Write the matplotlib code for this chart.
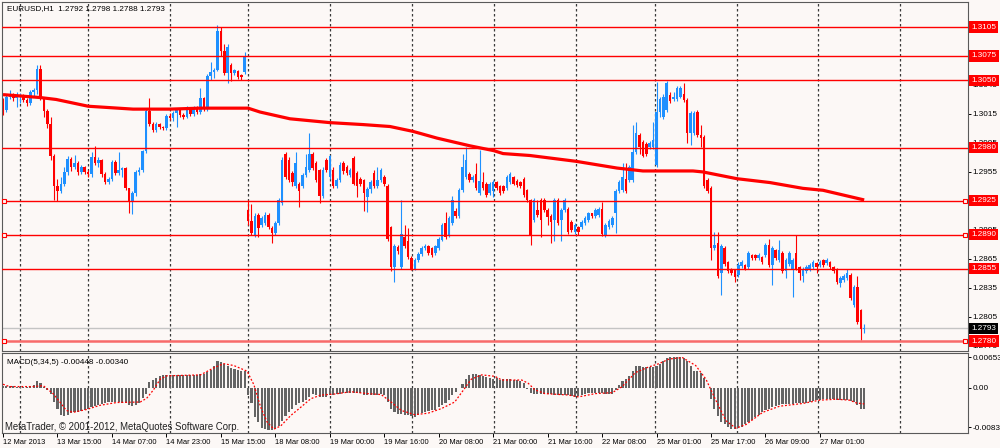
import numpy as np
import matplotlib.pyplot as plt
from matplotlib.transforms import blended_transform_factory

plt.rcParams['font.family'] = ['Liberation Sans', 'DejaVu Sans']

# EURUSD H1 candles, 12 Mar 2013 23:00 .. 27 Mar 2013
opens = [
    1.3030, 1.3019, 1.3033, 1.3036, 1.3031, 1.3034, 1.3035, 1.3029, 1.3026, 1.3038,
    1.3040, 1.3062, 1.3030, 1.3018, 1.3005, 1.2972, 1.2940, 1.2935, 1.2943, 1.2955,
    1.2968, 1.2960, 1.2964, 1.2955, 1.2960, 1.2955, 1.2953, 1.2970, 1.2964, 1.2967,
    1.2953, 1.2945, 1.2948, 1.2965, 1.2954, 1.2957, 1.2959, 1.2938, 1.2924, 1.2933,
    1.2955, 1.2957, 1.2977, 1.3018, 1.3005, 1.2998, 1.3005, 1.3001, 1.3000, 1.3013,
    1.3011, 1.3016, 1.3020, 1.3014, 1.3012, 1.3019, 1.3015, 1.3021, 1.3017, 1.3031,
    1.3020, 1.3054, 1.3058, 1.3061, 1.3101, 1.3080, 1.3057, 1.3066, 1.3057, 1.3059,
    1.3055, 1.3058, 1.2916, 1.2904, 1.2890, 1.2910, 1.2900, 1.2902, 1.2910, 1.2897,
    1.2892, 1.2902, 1.2923, 1.2974, 1.2967, 1.2954, 1.2940, 1.2943, 1.2940, 1.2952,
    1.2957, 1.2974, 1.2964, 1.2957, 1.2930, 1.2967, 1.2950, 1.2957, 1.2940, 1.2947,
    1.2964, 1.2960, 1.2952, 1.2969, 1.2954, 1.2948, 1.2947, 1.2929, 1.2937, 1.2954,
    1.2940, 1.2947, 1.2950, 1.2940, 1.2898, 1.2857, 1.2877, 1.2857, 1.2888, 1.2884,
    1.2866, 1.2855, 1.2864, 1.2870, 1.2876, 1.2878, 1.2876, 1.2871, 1.2876, 1.2885,
    1.2902, 1.2890, 1.2902, 1.2915, 1.2909, 1.2936, 1.2950, 1.2953, 1.2947, 1.2953,
    1.2933, 1.2945, 1.2943, 1.2933, 1.2935, 1.2945, 1.2940, 1.2940, 1.2938, 1.2945,
    1.2950, 1.2946, 1.2945, 1.2948, 1.2936, 1.2926, 1.2905, 1.2916, 1.2926, 1.2926,
    1.2916, 1.2909, 1.2905, 1.2926, 1.2905, 1.2916, 1.2917, 1.2903, 1.2893, 1.2898,
    1.2898, 1.2902, 1.2905, 1.2912, 1.2909, 1.2910, 1.2917, 1.2890, 1.2898, 1.2900,
    1.2912, 1.2935, 1.2936, 1.2948, 1.2947, 1.2947, 1.2976, 1.2993, 1.2986, 1.2984,
    1.2981, 1.2981, 1.2962, 1.3017, 1.3012, 1.3019, 1.3035, 1.3030, 1.3030, 1.3033,
    1.3036, 1.3029, 1.2995, 1.2995, 1.3017, 1.2993, 1.2991, 1.2947, 1.2938, 1.2876,
    1.2881, 1.2850, 1.2876, 1.2862, 1.2855, 1.2853, 1.2848, 1.2858, 1.2859, 1.2857,
    1.2869, 1.2869, 1.2866, 1.2867, 1.2869, 1.2879, 1.2859, 1.2874, 1.2864, 1.2871,
    1.2852, 1.2860, 1.2854, 1.2871, 1.2857, 1.2847, 1.2852, 1.2854, 1.2857, 1.2861,
    1.2859, 1.2864, 1.2861, 1.2862, 1.2857, 1.2855, 1.2840, 1.2843, 1.2845, 1.2848,
    1.2817, 1.2836, 1.2812, 1.2792,
]
highs = [
    1.3032, 1.3036, 1.3040, 1.3037, 1.3038, 1.3037, 1.3036, 1.3032, 1.3040, 1.3042,
    1.3066, 1.3066, 1.3032, 1.3020, 1.3012, 1.2974, 1.2948, 1.2950, 1.2960, 1.2972,
    1.2970, 1.2973, 1.2966, 1.2962, 1.2961, 1.2957, 1.2976, 1.2982, 1.2970, 1.2968,
    1.2955, 1.2950, 1.2967, 1.2967, 1.2976, 1.2960, 1.2960, 1.2938, 1.2935, 1.2957,
    1.2960, 1.2978, 1.3020, 1.3031, 1.3007, 1.3007, 1.3006, 1.3003, 1.3015, 1.3016,
    1.3018, 1.3021, 1.3021, 1.3016, 1.3023, 1.3022, 1.3023, 1.3023, 1.3042, 1.3033,
    1.3056, 1.3069, 1.3063, 1.3107, 1.3105, 1.3087, 1.3087, 1.3068, 1.3062, 1.3060,
    1.3056, 1.3079, 1.2926, 1.2922, 1.2912, 1.2912, 1.2909, 1.2914, 1.2912, 1.2899,
    1.2904, 1.2928, 1.2970, 1.2976, 1.2970, 1.2956, 1.2976, 1.2945, 1.2954, 1.2974,
    1.2995, 1.2976, 1.2966, 1.2958, 1.2960, 1.2969, 1.2973, 1.2960, 1.2949, 1.2965,
    1.2966, 1.2962, 1.2959, 1.2972, 1.2956, 1.2950, 1.2948, 1.2939, 1.2947, 1.2957,
    1.2960, 1.2959, 1.2952, 1.2942, 1.2899, 1.2880, 1.2879, 1.2926, 1.2900, 1.2897,
    1.2868, 1.2866, 1.2872, 1.2878, 1.2880, 1.2879, 1.2877, 1.2879, 1.2888, 1.2902,
    1.2914, 1.2909, 1.2930, 1.2918, 1.2938, 1.2974, 1.2981, 1.2955, 1.2952, 1.2964,
    1.2978, 1.2955, 1.2945, 1.2945, 1.2947, 1.2946, 1.2941, 1.2941, 1.2952, 1.2955,
    1.2951, 1.2948, 1.2946, 1.2950, 1.2937, 1.2927, 1.2928, 1.2926, 1.2928, 1.2928,
    1.2918, 1.2911, 1.2928, 1.2928, 1.2918, 1.2928, 1.2919, 1.2905, 1.2902, 1.2899,
    1.2905, 1.2909, 1.2914, 1.2913, 1.2918, 1.2919, 1.2924, 1.2902, 1.2906, 1.2909,
    1.2937, 1.2947, 1.2964, 1.2964, 1.2962, 1.3004, 1.3007, 1.2995, 1.2988, 1.2986,
    1.2987, 1.3007, 1.3048, 1.3033, 1.3036, 1.3049, 1.3038, 1.3038, 1.3044, 1.3044,
    1.3047, 1.3031, 1.3018, 1.3018, 1.3019, 1.3004, 1.2993, 1.2949, 1.2940, 1.2893,
    1.2893, 1.2880, 1.2878, 1.2863, 1.2856, 1.2854, 1.2862, 1.2864, 1.2860, 1.2873,
    1.2870, 1.2870, 1.2871, 1.2868, 1.2881, 1.2886, 1.2878, 1.2875, 1.2885, 1.2873,
    1.2866, 1.2873, 1.2866, 1.2890, 1.2858, 1.2857, 1.2859, 1.2861, 1.2864, 1.2862,
    1.2864, 1.2865, 1.2866, 1.2863, 1.2858, 1.2856, 1.2847, 1.2849, 1.2855, 1.2850,
    1.2838, 1.2847, 1.2813, 1.2798,
]
lows = [
    1.3014, 1.3017, 1.3030, 1.3028, 1.3022, 1.3026, 1.3027, 1.3023, 1.3024, 1.3033,
    1.3036, 1.3029, 1.3012, 1.3000, 1.2967, 1.2926, 1.2925, 1.2933, 1.2940, 1.2952,
    1.2956, 1.2958, 1.2952, 1.2953, 1.2953, 1.2950, 1.2950, 1.2962, 1.2960, 1.2950,
    1.2943, 1.2943, 1.2946, 1.2952, 1.2952, 1.2950, 1.2936, 1.2912, 1.2911, 1.2930,
    1.2952, 1.2955, 1.2975, 1.3003, 1.2996, 1.2996, 1.2999, 1.2998, 1.2998, 1.3009,
    1.3008, 1.3001, 1.3012, 1.3010, 1.3011, 1.3013, 1.3013, 1.3015, 1.3015, 1.3018,
    1.3018, 1.3050, 1.3052, 1.3059, 1.3075, 1.3055, 1.3047, 1.3049, 1.3055, 1.3051,
    1.3050, 1.3056, 1.2900, 1.2890, 1.2888, 1.2888, 1.2898, 1.2900, 1.2896, 1.2881,
    1.2890, 1.2900, 1.2921, 1.2948, 1.2945, 1.2940, 1.2938, 1.2919, 1.2938, 1.2950,
    1.2955, 1.2957, 1.2945, 1.2923, 1.2928, 1.2955, 1.2948, 1.2938, 1.2938, 1.2945,
    1.2953, 1.2952, 1.2950, 1.2941, 1.2929, 1.2940, 1.2915, 1.2914, 1.2933, 1.2938,
    1.2938, 1.2945, 1.2940, 1.2884, 1.2852, 1.2841, 1.2870, 1.2855, 1.2876, 1.2865,
    1.2854, 1.2853, 1.2862, 1.2868, 1.2874, 1.2869, 1.2867, 1.2869, 1.2874, 1.2883,
    1.2886, 1.2888, 1.2900, 1.2907, 1.2907, 1.2934, 1.2948, 1.2945, 1.2945, 1.2936,
    1.2931, 1.2936, 1.2929, 1.2931, 1.2929, 1.2936, 1.2931, 1.2933, 1.2936, 1.2943,
    1.2941, 1.2939, 1.2938, 1.2929, 1.2924, 1.2879, 1.2903, 1.2908, 1.2888, 1.2914,
    1.2900, 1.2881, 1.2884, 1.2900, 1.2884, 1.2914, 1.2891, 1.2893, 1.2891, 1.2890,
    1.2896, 1.2900, 1.2903, 1.2907, 1.2907, 1.2908, 1.2889, 1.2888, 1.2896, 1.2898,
    1.2892, 1.2933, 1.2934, 1.2933, 1.2945, 1.2945, 1.2974, 1.2974, 1.2970, 1.2972,
    1.2979, 1.2979, 1.2960, 1.3012, 1.3010, 1.3017, 1.3026, 1.3028, 1.3028, 1.3031,
    1.3027, 1.2985, 1.2983, 1.2993, 1.2991, 1.2981, 1.2938, 1.2933, 1.2864, 1.2874,
    1.2845, 1.2828, 1.2858, 1.2850, 1.2848, 1.2841, 1.2846, 1.2856, 1.2853, 1.2855,
    1.2864, 1.2864, 1.2864, 1.2860, 1.2867, 1.2857, 1.2838, 1.2864, 1.2862, 1.2850,
    1.2845, 1.2858, 1.2826, 1.2853, 1.2843, 1.2841, 1.2850, 1.2852, 1.2855, 1.2850,
    1.2857, 1.2857, 1.2859, 1.2855, 1.2850, 1.2839, 1.2836, 1.2841, 1.2843, 1.2822,
    1.2815, 1.2798, 1.2781, 1.2788,
]
closes = [
    1.3019, 1.3033, 1.3036, 1.3031, 1.3034, 1.3035, 1.3029, 1.3026, 1.3038, 1.3040,
    1.3062, 1.3030, 1.3018, 1.3005, 1.2972, 1.2940, 1.2935, 1.2943, 1.2955, 1.2968,
    1.2960, 1.2964, 1.2955, 1.2960, 1.2955, 1.2953, 1.2970, 1.2964, 1.2967, 1.2953,
    1.2945, 1.2948, 1.2965, 1.2954, 1.2957, 1.2959, 1.2938, 1.2924, 1.2933, 1.2955,
    1.2957, 1.2977, 1.3018, 1.3005, 1.2998, 1.3005, 1.3001, 1.3000, 1.3013, 1.3011,
    1.3016, 1.3020, 1.3014, 1.3012, 1.3019, 1.3015, 1.3021, 1.3017, 1.3031, 1.3020,
    1.3054, 1.3058, 1.3061, 1.3101, 1.3080, 1.3057, 1.3084, 1.3057, 1.3060, 1.3053,
    1.3053, 1.3074, 1.2904, 1.2892, 1.2909, 1.2897, 1.2907, 1.2910, 1.2898, 1.2892,
    1.2902, 1.2926, 1.2967, 1.2950, 1.2947, 1.2945, 1.2964, 1.2935, 1.2952, 1.2960,
    1.2974, 1.2959, 1.2947, 1.2930, 1.2957, 1.2957, 1.2971, 1.2940, 1.2947, 1.2962,
    1.2956, 1.2954, 1.2957, 1.2943, 1.2940, 1.2943, 1.2933, 1.2937, 1.2945, 1.2940,
    1.2947, 1.2957, 1.2942, 1.2886, 1.2857, 1.2878, 1.2873, 1.2891, 1.2878, 1.2867,
    1.2855, 1.2864, 1.2870, 1.2876, 1.2878, 1.2871, 1.2869, 1.2878, 1.2886, 1.2900,
    1.2888, 1.2907, 1.2926, 1.2909, 1.2936, 1.2960, 1.2967, 1.2947, 1.2950, 1.2938,
    1.2946, 1.2938, 1.2931, 1.2943, 1.2945, 1.2938, 1.2933, 1.2935, 1.2950, 1.2953,
    1.2943, 1.2941, 1.2940, 1.2931, 1.2926, 1.2890, 1.2926, 1.2910, 1.2905, 1.2916,
    1.2908, 1.2903, 1.2926, 1.2902, 1.2916, 1.2926, 1.2893, 1.2895, 1.2900, 1.2893,
    1.2903, 1.2907, 1.2912, 1.2909, 1.2916, 1.2917, 1.2891, 1.2900, 1.2904, 1.2907,
    1.2935, 1.2945, 1.2950, 1.2935, 1.2960, 1.2976, 1.2995, 1.2981, 1.2972, 1.2974,
    1.2985, 1.2988, 1.3017, 1.3030, 1.3033, 1.3047, 1.3028, 1.3033, 1.3042, 1.3042,
    1.3029, 1.2995, 1.3016, 1.3016, 1.2993, 1.2990, 1.2940, 1.2935, 1.2876, 1.2879,
    1.2847, 1.2878, 1.2860, 1.2852, 1.2850, 1.2846, 1.2859, 1.2862, 1.2855, 1.2871,
    1.2866, 1.2866, 1.2869, 1.2862, 1.2879, 1.2859, 1.2876, 1.2866, 1.2874, 1.2852,
    1.2864, 1.2871, 1.2864, 1.2855, 1.2850, 1.2855, 1.2857, 1.2859, 1.2862, 1.2857,
    1.2862, 1.2859, 1.2864, 1.2857, 1.2852, 1.2841, 1.2845, 1.2847, 1.2850, 1.2824,
    1.2836, 1.2800, 1.2792, 1.2793,
]

# moving average (read at bar positions)
ma_pos = [0, 10.9, 15.6, 25, 38.2, 49.1, 57.9, 72, 75.5, 84.3, 96.1, 105.8, 113.7,
          120.4, 127.5, 137.2, 144.2, 146.9, 154.8, 168.3, 180.4, 188, 202.7, 205.6,
          215.6, 225.3, 235, 240.9, 253]
ma_vals = [1.3035, 1.3032, 1.3030, 1.3023, 1.3020, 1.3020, 1.3021, 1.3021, 1.3017,
           1.3010, 1.3006, 1.3004, 1.3002, 1.2997, 1.2990, 1.2982, 1.2977, 1.2974,
           1.2972, 1.2966, 1.2959, 1.2956, 1.2956, 1.2955, 1.2948, 1.2944, 1.2938,
           1.2936, 1.2926]

levels = [1.3105, 1.3075, 1.3050, 1.2980, 1.2925, 1.2890, 1.2855, 1.2780]
marked_levels = [1.2925, 1.2890, 1.2780]
bid = 1.2793

price_ticks = [1.2775, 1.2805, 1.2835, 1.2865, 1.2895, 1.2925, 1.2955, 1.2985,
               1.3015, 1.3045, 1.3075, 1.3105]

# MACD(5,34,5) histogram and signal
macd_hist = [
    0.0004, 0.0004, 0.0005, 0.0004, 0.0003, 0.0003, 0.0002, 0.0002, 0.0004, 0.0006,
    0.0016, 0.0010, 0.0003, -0.0004, -0.0012, -0.0030, -0.0044, -0.0057, -0.0059, -0.0057,
    -0.0054, -0.0052, -0.0051, -0.0049, -0.0046, -0.0044, -0.0041, -0.0038, -0.0036, -0.0034,
    -0.0033, -0.0031, -0.0030, -0.0031, -0.0031, -0.0032, -0.0033, -0.0036, -0.0038, -0.0036,
    -0.0033, -0.0022, -0.0012, 0.0012, 0.0017, 0.0021, 0.0025, 0.0027, 0.0027, 0.0028,
    0.0028, 0.0028, 0.0027, 0.0027, 0.0027, 0.0027, 0.0028, 0.0028, 0.0029, 0.0030,
    0.0034, 0.0039, 0.0046, 0.0057, 0.0055, 0.0052, 0.0048, 0.0043, 0.0041, 0.0039,
    0.0037, 0.0036, -0.0015, -0.0033, -0.0062, -0.0073, -0.0086, -0.0088, -0.0089, -0.0090,
    -0.0088, -0.0081, -0.0070, -0.0059, -0.0052, -0.0044, -0.0037, -0.0033, -0.0030, -0.0025,
    -0.0019, -0.0013, -0.0014, -0.0019, -0.0020, -0.0019, -0.0015, -0.0014, -0.0012, -0.0012,
    -0.0011, -0.0011, -0.0010, -0.0010, -0.0011, -0.0011, -0.0014, -0.0015, -0.0014, -0.0015,
    -0.0014, -0.0013, -0.0015, -0.0030, -0.0044, -0.0052, -0.0055, -0.0055, -0.0057, -0.0057,
    -0.0059, -0.0061, -0.0057, -0.0054, -0.0052, -0.0050, -0.0048, -0.0046, -0.0041, -0.0037,
    -0.0032, -0.0026, -0.0015, -0.0008, -0.0001, 0.0008, 0.0019, 0.0028, 0.0030, 0.0030,
    0.0028, 0.0026, 0.0023, 0.0022, 0.0019, 0.0021, 0.0017, 0.0019, 0.0019, 0.0019,
    0.0017, 0.0017, 0.0014, 0.0010, -0.0003, -0.0010, -0.0012, -0.0012, -0.0012, -0.0012,
    -0.0013, -0.0013, -0.0014, -0.0014, -0.0015, -0.0015, -0.0016, -0.0017, -0.0019, -0.0017,
    -0.0015, -0.0012, -0.0011, -0.0010, -0.0010, -0.0010, -0.0011, -0.0012, -0.0013, -0.0012,
    -0.0004, 0.0007, 0.0014, 0.0019, 0.0025, 0.0036, 0.0046, 0.0046, 0.0045, 0.0045,
    0.0045, 0.0045, 0.0046, 0.0052, 0.0057, 0.0065, 0.0066, 0.0066, 0.0066, 0.0066,
    0.0065, 0.0057, 0.0046, 0.0037, 0.0036, 0.0032, 0.0021, 0.0001, -0.0023, -0.0044,
    -0.0059, -0.0073, -0.0077, -0.0083, -0.0088, -0.0088, -0.0086, -0.0084, -0.0077, -0.0073,
    -0.0068, -0.0063, -0.0057, -0.0052, -0.0046, -0.0044, -0.0041, -0.0039, -0.0037, -0.0035,
    -0.0035, -0.0034, -0.0034, -0.0033, -0.0033, -0.0033, -0.0032, -0.0030, -0.0028, -0.0026,
    -0.0025, -0.0023, -0.0023, -0.0023, -0.0024, -0.0025, -0.0025, -0.0025, -0.0025, -0.0027,
    -0.0030, -0.0037, -0.0044, -0.00448,
]
signal_pos = [0, 1.9, 8.8, 11.8, 14.7, 16.7, 18.6, 20.6, 24.5, 28.5, 33.4, 40.3, 42.2,
              44.2, 46.2, 48.1, 58, 61.9, 64.8, 67.8, 71.7, 73.7, 75.7, 77.6, 79.6,
              81.6, 84.5, 87.5, 90.4, 93.4, 97.3, 102.2, 107.1, 111.1, 114, 117,
              120.9, 124.8, 128.8, 132.7, 135.6, 137.6, 140.6, 144.5, 146.5, 152.4,
              154.3, 156.3, 159.2, 166.1, 169.1, 174, 179, 181.9, 185.8, 189.7,
              192.7, 195.7, 199.6, 203.5, 206.5, 209.4, 212.4, 215.3, 218.3, 223.2,
              228.1, 235, 239.9, 244.8, 248.7, 250.7, 253]
signal_vals = [0.0008, 0.0003, 0.0003, 0.0005, -0.0012, -0.0030, -0.0048, -0.0052,
               -0.0046, -0.0037, -0.0031, -0.0030, -0.0022, -0.0004, 0.0019, 0.0026,
               0.0028, 0.0043, 0.0052, 0.0048, 0.0036, 0.0007, -0.0041, -0.0073,
               -0.0088, -0.0081, -0.0059, -0.0041, -0.0023, -0.0015, -0.0013, -0.0008,
               -0.0012, -0.0014, -0.0030, -0.0048, -0.0057, -0.0054, -0.0044, -0.0030,
               -0.0001, 0.0019, 0.0028, 0.0025, 0.0017, 0.0017, 0.0010, -0.0004,
               -0.0012, -0.0015, -0.0019, -0.0012, -0.0010, 0.0003, 0.0033, 0.0045,
               0.0052, 0.0062, 0.0065, 0.0048, 0.0019, -0.0026, -0.0070, -0.0086,
               -0.0078, -0.0052, -0.0039, -0.0033, -0.0026, -0.0024, -0.0026, -0.0032,
               -0.0034]
macd_ticks = [0.00653, 0.0, -0.00837]
macd_tick_labels = ['0.00653', '0.00', '-0.00837']

time_pos = [0, 16, 32, 48, 64, 80, 96, 112, 128, 144, 160, 176, 192, 208, 224, 240]
time_labels = ['12 Mar 2013', '13 Mar 15:00', '14 Mar 07:00', '14 Mar 23:00',
               '15 Mar 15:00', '18 Mar 08:00', '19 Mar 00:00', '19 Mar 16:00',
               '20 Mar 08:00', '21 Mar 00:00', '21 Mar 16:00', '22 Mar 08:00',
               '25 Mar 01:00', '25 Mar 17:00', '26 Mar 09:00', '27 Mar 01:00']
grid_pos = [5, 25, 49.1, 72, 96.1, 120.2, 144.2, 168.3, 191.5, 215.6, 239.4, 263.5]

BG = '#fcf8f6'
UP = '#1e90ff'
DOWN = '#ff0000'
FRAME = '#5a5a5a'
FS = 5.9      # MetaTrader small labels
FS_X = 5.4    # time axis labels are a bit narrower

fig = plt.figure(figsize=(10, 4.48), dpi=100, facecolor=BG)
ax = fig.add_axes([0.002, 1 - 351 / 448, 0.966, 349 / 448])
axm = fig.add_axes([0.002, 1 - 433 / 448, 0.966, 80 / 448], sharex=ax)
for a in (ax, axm):
    a.set_facecolor(BG)
    for s in a.spines.values():
        s.set_color(FRAME)
        s.set_linewidth(0.8)
    for g in grid_pos:
        a.axvline(g, color='#3a3a3a', lw=0.9, ls=(0, (2, 2)), zorder=0.5)

# candles
o = np.array(opens)
h = np.array(highs)
l = np.array(lows)
c = np.array(closes)
x = np.arange(len(c))
cols = np.where(c >= o, UP, DOWN)
ax.vlines(x, l, h, colors=cols, lw=0.8, zorder=2)
ax.bar(x, np.maximum(np.abs(c - o), 0.00008), bottom=np.minimum(o, c),
       width=0.75, color=cols, lw=0, zorder=2)

# levels and moving average
for lv in levels:
    if lv == 1.2780:
        ax.axhline(lv, color='#f86a6a', lw=1.8, zorder=3)
    else:
        ax.axhline(lv, color='#ff0000', lw=1.0, zorder=3)
ax.axhline(bid, color='#c4c4c4', lw=1.0, zorder=1.5)
ax.plot(ma_pos, ma_vals, color='#ff0000', lw=2.3, solid_capstyle='butt', zorder=4)

trans = blended_transform_factory(ax.transAxes, ax.transData)
for lv in marked_levels:
    ax.plot([0.002, 0.997], [lv, lv], transform=trans, ls='none', marker='s',
            ms=3.4, mfc=BG, mec='#ff0000', mew=0.8, clip_on=False, zorder=5)

ax.set_xlim(-0.3, 283.5)
ax.set_ylim(1.276965, 1.313088)
ax.yaxis.tick_right()
ax.set_yticks(price_ticks)
ax.set_yticklabels([f'{v:.4f}' for v in price_ticks])
ax.tick_params(axis='y', length=2, width=0.7, pad=1, labelsize=FS, colors='black')
ax.tick_params(axis='x', bottom=False, labelbottom=False)

# price boxes sit exactly over the tick label slot (2 px tick + 1 pt pad)
box_x = 1 + 3.4 / 966
for lv in levels:
    ax.text(box_x, lv, f'{lv:.4f}', transform=trans, ha='left', va='center',
            color='white', fontsize=FS, clip_on=False, zorder=6,
            bbox=dict(boxstyle='square,pad=0.25', fc='#ff0000', ec='none'))
ax.text(box_x, bid, f'{bid:.4f}', transform=trans, ha='left', va='center',
        color='white', fontsize=FS, clip_on=False, zorder=6,
        bbox=dict(boxstyle='square,pad=0.25', fc='black', ec='none'))

ax.text(0.005, 0.99, 'EURUSD,H1  1.2792 1.2798 1.2788 1.2793',
        transform=ax.transAxes, ha='left', va='top', fontsize=FS, color='black')

# MACD panel
axm.bar(x, macd_hist, width=0.62, color='#646464', lw=0, zorder=2)
axm.plot(signal_pos, signal_vals, color='#ff0000', lw=0.9, ls=(0, (1.5, 1.5)), zorder=3)
axm.set_ylim(-0.00962, 0.00748)
axm.yaxis.tick_right()
axm.set_yticks(macd_ticks)
axm.set_yticklabels(macd_tick_labels)
axm.tick_params(axis='y', length=2, width=0.7, pad=1, labelsize=FS, colors='black')
axm.set_xticks(time_pos)
axm.set_xticklabels(time_labels, ha='left')
axm.tick_params(axis='x', length=3, width=0.7, pad=1.5, labelsize=FS_X, colors='black')

axm.text(0.005, 0.885, 'MACD(5,34,5) -0.00448 -0.00340', transform=axm.transAxes,
         ha='left', va='center', fontsize=FS, color='black')
axm.text(0.003, 0.08, 'MetaTrader, \u00a9 2001-2012, MetaQuotes Software Corp.',
         transform=axm.transAxes, ha='left', va='center', fontsize=6.9, color='#202020')

fig.savefig('out.png', dpi=100, facecolor=BG)
